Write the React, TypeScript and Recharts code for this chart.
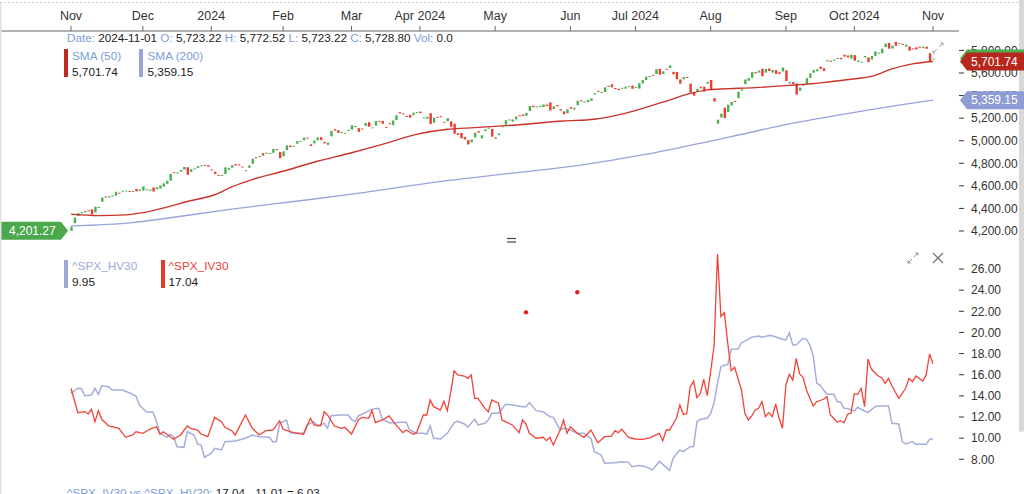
import { Bar, ComposedChart, Line, ReferenceDot, XAxis, YAxis } from 'recharts';

const FONT = '"Liberation Sans", Arial, Helvetica, sans-serif';
const UP = '#4cae4f';
const DOWN = '#ee3a2f';
const LABEL = '#7b9dd6';
const INK = '#222';

// trading-day index (0 = 2023-11-01) of the first session of each month
const monthTicks = [0, 21, 41, 62, 82, 102, 124, 146, 165, 187, 209, 229, 252];
const monthLabels = ['Nov', 'Dec', '2024', 'Feb', 'Mar', 'Apr 2024', 'May', 'Jun', 'Jul 2024', 'Aug', 'Sep', 'Oct 2024', 'Nov'];

// daily candles, one per session
const opens = [
  // Nov 2023
  4201.27, 4268, 4334, 4364, 4366, 4384, 4391, 4364, 4407, 4459, 4505, 4497, 4510, 4512, 4539, 4553, 4556, 4555, 4546, 4572, 4555,
  // Dec
  4559, 4564, 4557, 4586, 4569, 4576, 4593, 4618, 4646, 4721, 4714, 4726, 4744, 4765, 4724, 4754, 4759, 4773, 4786, 4783,
  // Jan 2024
  4745, 4725, 4697, 4691, 4704, 4742, 4760, 4792, 4791, 4772, 4739, 4760, 4796, 4853, 4857, 4889, 4887, 4889, 4893, 4926, 4899,
  // Feb
  4861, 4916, 4957, 4950, 4973, 4995, 5004, 5027, 4968, 4976, 5003, 5031, 4989, 4963, 5039, 5101, 5093, 5075, 5067, 5085,
  // Mar
  5099, 5131, 5111, 5108, 5132, 5164, 5112, 5134, 5173, 5175, 5123, 5155, 5139, 5182, 5253, 5242, 5220, 5229, 5226, 5248,
  // Apr
  5258, 5204, 5194, 5244, 5159, 5211, 5217, 5168, 5173, 5172, 5150, 5065, 5069, 5032, 5005, 4987, 5029, 5085, 5020, 5085, 5114, 5104,
  // May
  5029, 5049, 5123, 5142, 5187, 5169, 5189, 5225, 5233, 5221, 5263, 5310, 5303, 5305, 5299, 5319, 5340, 5281, 5316, 5279, 5260, 5243,
  // Jun
  5297, 5276, 5314, 5358, 5344, 5341, 5353, 5409, 5442, 5424, 5431, 5476, 5500, 5467, 5460, 5461, 5461, 5474, 5488,
  // Jul
  5471, 5462, 5507, 5538, 5573, 5584, 5591, 5635, 5591, 5638, 5644, 5610, 5609, 5543, 5544, 5565, 5506, 5429, 5434, 5477, 5479, 5506,
  // Aug
  5538, 5377, 5151, 5206, 5293, 5253, 5313, 5352, 5377, 5443, 5501, 5531, 5557, 5608, 5603, 5638, 5603, 5640, 5603, 5625, 5607, 5613,
  // Sep
  5624, 5507, 5520, 5507, 5442, 5491, 5496, 5557, 5603, 5615, 5656, 5642, 5703, 5709, 5712, 5728, 5734, 5762, 5755, 5727,
  // Oct
  5758, 5698, 5699, 5738, 5738, 5719, 5752, 5778, 5775, 5830, 5867, 5817, 5876, 5859, 5858, 5833, 5835, 5817, 5827, 5834, 5820, 5833, 5775,
  // Nov 2024
  5723.22,
];

const closes = [
  4238, 4318, 4358, 4366, 4378, 4383, 4347, 4415, 4412, 4496, 4503, 4508, 4514, 4547, 4538, 4557, 4559, 4550, 4555, 4551, 4568,
  4595, 4570, 4567, 4549, 4586, 4604, 4622, 4644, 4707, 4720, 4719, 4741, 4768, 4698, 4747, 4755, 4775, 4782, 4783, 4770,
  4743, 4705, 4689, 4697, 4764, 4757, 4783, 4780, 4784, 4766, 4739, 4781, 4840, 4850, 4865, 4869, 4894, 4891, 4928, 4925, 4846,
  4906, 4959, 4943, 4954, 4995, 4998, 5027, 5022, 4953, 5001, 5030, 5006, 4976, 4982, 5087, 5089, 5070, 5078, 5070, 5096,
  5137, 5131, 5079, 5105, 5157, 5124, 5118, 5175, 5165, 5150, 5117, 5149, 5179, 5225, 5242, 5234, 5218, 5204, 5248, 5254,
  5244, 5206, 5211, 5147, 5204, 5202, 5210, 5161, 5199, 5123, 5062, 5051, 5022, 5011, 4967, 5011, 5071, 5072, 5048, 5100, 5116, 5036,
  5018, 5064, 5128, 5181, 5188, 5188, 5214, 5223, 5221, 5247, 5308, 5297, 5303, 5308, 5321, 5307, 5268, 5305, 5306, 5267, 5235, 5278,
  5283, 5291, 5354, 5353, 5347, 5361, 5375, 5421, 5434, 5432, 5473, 5487, 5473, 5465, 5448, 5469, 5478, 5483, 5460,
  5475, 5509, 5537, 5567, 5573, 5577, 5634, 5585, 5615, 5631, 5667, 5588, 5545, 5505, 5564, 5556, 5427, 5399, 5459, 5464, 5436, 5522,
  5447, 5347, 5186, 5240, 5200, 5319, 5344, 5344, 5434, 5455, 5543, 5554, 5608, 5597, 5621, 5571, 5635, 5617, 5626, 5592, 5592, 5648,
  5529, 5520, 5503, 5408, 5471, 5496, 5554, 5596, 5626, 5633, 5635, 5618, 5714, 5703, 5719, 5733, 5722, 5745, 5738, 5762,
  5709, 5710, 5700, 5751, 5696, 5751, 5792, 5780, 5815, 5860, 5815, 5842, 5841, 5865, 5854, 5851, 5797, 5810, 5808, 5824, 5833, 5814, 5705,
  5728.8,
];

// moving averages: [session, value]
const sma50: [number, number][] = [
  [0, 4349], [8, 4336], [16, 4343], [21, 4363], [28, 4411], [34, 4461], [42, 4521], [47, 4590], [53, 4655],
  [62, 4729], [72, 4818], [82, 4893], [91, 4967], [101, 5056], [110, 5101], [118, 5116], [129, 5137],
  [144, 5175], [153, 5190], [161, 5235], [168, 5295], [174, 5350], [180, 5410], [186, 5450], [190, 5458],
  [200, 5470], [210, 5490], [220, 5515], [228, 5545], [234, 5570], [240, 5636], [246, 5681], [252, 5701.74],
];
const sma200: [number, number][] = [
  [0, 4245], [18, 4274], [28, 4313], [47, 4394], [67, 4468], [86, 4542], [106, 4631], [129, 4712],
  [148, 4780], [168, 4878], [187, 4997], [193, 5036], [207, 5130], [226, 5235], [246, 5333], [252, 5359.15],
];

const priceTicks = [4200, 4400, 4600, 4800, 5000, 5200, 5400, 5600, 5800];
const volTicks = [8, 10, 12, 14, 16, 18, 20, 22, 24, 26];

const hv30: [number, number][] = [
  [0, 14.24], [2, 14.72], [3, 14.7], [4, 14.02], [6, 14.08], [7, 14.72], [8, 14.15], [9, 14.96], [11, 14.87],
  [12, 14.56], [15, 14.56], [17, 14.3], [19, 13.99], [20, 13.14], [22, 12.5], [24, 12.45], [25, 11.56], [26, 10.46],
  [28, 10.08], [29, 10.37], [30, 10.14], [31, 9.19], [33, 9.13], [34, 10.61], [36, 10.3], [37, 9.45], [38, 9.35],
  [39, 8.19], [41, 8.57], [42, 9.04], [44, 8.88], [45, 9.67], [48, 9.73], [51, 9.99], [53, 10.3], [55, 10.14],
  [58, 10.08], [59, 9.67], [60, 9.67], [61, 11.4], [63, 11.72], [64, 10.52], [66, 10.46], [68, 10.46], [69, 11.25],
  [71, 11.56], [72, 11.15], [74, 11.4], [75, 10.93], [76, 12.12], [79, 12.19], [81, 12.19], [82, 11.78], [83, 11.56],
  [84, 12.1], [86, 12.41], [88, 12.73], [90, 12.82], [91, 11.78], [93, 11.46], [95, 11.46], [96, 11.5], [98, 11.5],
  [99, 10.77], [101, 10.46], [103, 10.46], [104, 10.39], [105, 11.15], [106, 9.99], [108, 9.92], [110, 10.46],
  [112, 11.46], [113, 11.62], [115, 11.34], [116, 11.03], [118, 11.78], [119, 11.25], [121, 11.4], [122, 11.72],
  [123, 12.35], [125, 12.35], [127, 13.2], [129, 13.14], [132, 12.98], [133, 12.98], [134, 13.36], [136, 12.6],
  [138, 12.5], [140, 12.03], [141, 11.97], [143, 10.77], [144, 10.93], [146, 10.77], [148, 10.46], [150, 10.46],
  [151, 10.2], [152, 9.99], [153, 8.72], [155, 8.41], [156, 7.62], [159, 7.68], [161, 7.77], [163, 7.71], [164, 7.3],
  [166, 7.4], [168, 7.3], [170, 7.0], [172, 7.8], [175, 6.95], [176, 8.09], [178, 8.88], [179, 8.72], [181, 9.19],
  [182, 9.19], [183, 11.56], [184, 11.78], [186, 11.88], [187, 12.35], [188, 13.36], [189, 15.19], [190, 16.76],
  [191, 16.92], [192, 16.95], [193, 18.41], [195, 18.43], [196, 19.03], [198, 19.35], [199, 19.54], [201, 19.67],
  [202, 19.54], [204, 19.7], [205, 19.68], [208, 19.35], [209, 19.29], [210, 19.98], [211, 18.81], [212, 18.81],
  [214, 19.45], [215, 19.35], [216, 18.81], [217, 17.77], [218, 15.19], [219, 15.03], [220, 14.56], [221, 14.15],
  [223, 14.15], [224, 13.45], [225, 13.4], [226, 12.82], [227, 12.8], [229, 12.57], [230, 12.92], [231, 12.73],
  [233, 12.41], [235, 12.98], [236, 13.04], [239, 13.04], [240, 11.4], [242, 11.34], [243, 9.67], [244, 9.45],
  [246, 9.67], [247, 9.42], [250, 9.42], [251, 9.89], [252, 9.95],
];

const iv30: [number, number][] = [
  [0, 14.7], [2, 12.41], [4, 12.5], [5, 12.29], [6, 12.73], [7, 11.56], [8, 12.6], [9, 11.78], [11, 11.15],
  [14, 10.93], [16, 10.08], [18, 10.3], [19, 10.61], [21, 10.46], [23, 10.84], [25, 11.08], [26, 10.37], [27, 10.61],
  [29, 10.14], [30, 9.89], [32, 10.3], [34, 11.15], [35, 10.93], [37, 10.77], [38, 10.39], [40, 10.14], [42, 11.97],
  [44, 11.56], [45, 11.03], [47, 10.71], [48, 10.3], [51, 12.19], [53, 10.93], [55, 10.3], [57, 10.71], [59, 10.77],
  [61, 11.65], [62, 10.84], [65, 10.52], [68, 10.37], [70, 11.88], [71, 11.25], [73, 11.18], [74, 12.5], [75, 12.19],
  [77, 11.15], [79, 10.93], [80, 11.03], [82, 10.39], [84, 11.72], [85, 11.97], [87, 11.88], [88, 12.6], [89, 11.46],
  [91, 11.72], [93, 12.1], [95, 11.25], [97, 10.52], [98, 10.77], [100, 10.37], [101, 10.52], [103, 12.19], [104, 12.19],
  [105, 13.61], [106, 12.98], [108, 12.66], [109, 13.5], [110, 12.6], [111, 14.3], [112, 16.38], [113, 15.98],
  [115, 15.88], [116, 15.66], [117, 15.98], [118, 13.77], [119, 13.77], [121, 12.82], [122, 12.5], [123, 13.61],
  [125, 13.3], [126, 11.72], [127, 11.56], [129, 11.25], [131, 10.52], [132, 11.72], [133, 11.34], [134, 10.46],
  [136, 9.99], [138, 10.08], [139, 9.76], [140, 10.08], [141, 9.35], [143, 10.77], [144, 11.72], [145, 10.46],
  [146, 11.08], [148, 10.46], [150, 10.08], [152, 10.77], [154, 9.57], [156, 10.14], [158, 10.2], [159, 10.71],
  [160, 10.52], [161, 10.84], [163, 10.08], [165, 9.92], [167, 9.89], [169, 10.0], [172, 10.46], [173, 9.76],
  [174, 10.77], [175, 10.77], [177, 11.88], [178, 13.14], [179, 12.26], [180, 12.29], [181, 14.81], [182, 15.4],
  [183, 13.83], [184, 14.24], [185, 15.57], [186, 14.02], [187, 16.29], [188, 18.81], [189, 27.42], [190, 21.49],
  [191, 21.87], [192, 18.97], [193, 16.38], [194, 16.7], [196, 14.56], [197, 12.35], [198, 11.72], [199, 12.1],
  [200, 12.66], [201, 12.82], [202, 13.45], [203, 12.03], [204, 12.41], [205, 12.03], [206, 13.23], [207, 11.88],
  [208, 10.93], [209, 15.03], [210, 16.04], [211, 15.5], [212, 17.55], [213, 16.07], [214, 15.76], [215, 14.56],
  [216, 13.77], [217, 13.04], [218, 13.45], [220, 13.68], [221, 13.92], [222, 12.19], [223, 11.88], [224, 11.5],
  [225, 11.65], [226, 11.46], [227, 12.26], [228, 12.35], [229, 14.18], [230, 14.15], [231, 14.72], [232, 12.98],
  [233, 17.49], [234, 16.51], [236, 15.88], [237, 15.72], [238, 15.19], [239, 15.66], [240, 14.93], [242, 13.77],
  [243, 14.24], [244, 14.72], [245, 15.66], [246, 15.34], [247, 15.88], [249, 15.4], [250, 15.98], [251, 17.96],
  [252, 17.04],
];

// two stray IV marks floating above the lines
const strayDots: [number, number][] = [[133, 21.9], [148, 23.8]];

const candles = closes.map((close, i) => ({ i, open: opens[i], close }));
const toPoints = (rows: [number, number][]) => rows.map(([i, v]) => ({ i, v }));

const fmtPrice = (v: number) => v.toLocaleString('en-US', { minimumFractionDigits: 2, maximumFractionDigits: 2 });
const last = (rows: [number, number][]) => rows[rows.length - 1][1];

const X_DOMAIN: [number, number] = [-20.76, 259.6];
const PRICE_DOMAIN: [number, number] = [4067, 5972];
const PRICE_MARGIN = { top: 0, right: 0, bottom: 4, left: 0 };
const tickStyle = { fontSize: 12, fill: '#333', fontFamily: FONT };

function Candle(props: any) {
  const { x, y, width, height, payload } = props;
  const top = height < 0 ? y + height : y;
  const h = Math.max(Math.abs(height), 1);
  return <rect x={x} y={top} width={width} height={h} fill={payload.close >= payload.open ? UP : DOWN} />;
}

function rightTag(text: string, fill: string) {
  return (p: any) => {
    const cy = p.cy;
    return (
      <g>
        <path d={`M960 ${cy} L967 ${cy - 9} L1024 ${cy - 9} L1024 ${cy + 9} L967 ${cy + 9} Z`} fill={fill} />
        <text x={971} y={cy + 4.3} fill="#fff" fontSize={12} fontFamily={FONT}>{text}</text>
      </g>
    );
  };
}

function leftTag(text: string, fill: string) {
  return (p: any) => {
    const { cx, cy } = p;
    const tip = cx - 3;
    return (
      <g>
        <path d={`M1 ${cy - 9} L${tip - 7} ${cy - 9} L${tip} ${cy} L${tip - 7} ${cy + 9} L1 ${cy + 9} Z`} fill={fill} />
        <text x={9} y={cy + 4.3} fill="#fff" fontSize={12} fontFamily={FONT}>{text}</text>
      </g>
    );
  };
}

function PriceChart() {
  return (
    <ComposedChart width={1024} height={250} data={candles} margin={PRICE_MARGIN}>
      <XAxis
        dataKey="i"
        type="number"
        orientation="top"
        height={31}
        domain={X_DOMAIN}
        allowDataOverflow
        ticks={monthTicks}
        interval={0}
        tickFormatter={(v: number) => monthLabels[monthTicks.indexOf(v)] ?? ''}
        tick={{ ...tickStyle, fontSize: 12.5 }}
        tickSize={5}
        tickMargin={6}
        axisLine={{ stroke: '#666' }}
        tickLine={{ stroke: '#666' }}
      />
      <YAxis
        orientation="right"
        width={65}
        domain={PRICE_DOMAIN}
        allowDataOverflow
        ticks={priceTicks}
        interval={0}
        tickFormatter={fmtPrice}
        tick={tickStyle}
        tickSize={5}
        tickMargin={7}
        axisLine={false}
        tickLine={{ stroke: '#333' }}
      />
      <Line data={toPoints(sma200)} dataKey="v" type="monotone" stroke="#98a4dc" strokeWidth={1.3} dot={false} isAnimationActive={false} />
      <Line data={toPoints(sma50)} dataKey="v" type="monotone" stroke="#cb3329" strokeWidth={1.4} dot={false} isAnimationActive={false} />
      <Bar
        dataKey={(d: any) => [Math.min(d.open, d.close), Math.max(d.open, d.close)]}
        barSize={2.4}
        shape={Candle}
        isAnimationActive={false}
      />
    </ComposedChart>
  );
}

// same scales as PriceChart, drawn on top so the price tags cover the axis labels
function PriceTags() {
  return (
    <ComposedChart width={1024} height={250} data={candles} margin={PRICE_MARGIN}>
      <XAxis dataKey="i" type="number" orientation="top" height={31} domain={X_DOMAIN} allowDataOverflow tick={false} axisLine={false} tickLine={false} />
      <YAxis orientation="right" width={65} domain={PRICE_DOMAIN} allowDataOverflow tick={false} axisLine={false} tickLine={false} />
      <ReferenceDot x={252} y={closes[closes.length - 1]} shape={rightTag(fmtPrice(closes[closes.length - 1]), UP)} />
      <ReferenceDot x={252} y={last(sma50)} shape={rightTag(fmtPrice(last(sma50)), '#b8271d')} />
      <ReferenceDot x={252} y={last(sma200)} shape={rightTag(fmtPrice(last(sma200)), '#8e9bd4')} />
      <ReferenceDot x={0} y={opens[0]} shape={leftTag(fmtPrice(opens[0]), '#4ba84d')} />
    </ComposedChart>
  );
}

function VolChart() {
  return (
    <ComposedChart width={1024} height={494} margin={{ top: 250, right: 0, bottom: 16, left: 0 }}>
      <XAxis dataKey="i" type="number" hide domain={X_DOMAIN} allowDataOverflow />
      <YAxis
        orientation="right"
        width={65}
        domain={[6.23, 27.8]}
        allowDataOverflow
        ticks={volTicks}
        interval={0}
        tickFormatter={(v: number) => v.toFixed(2)}
        tick={tickStyle}
        tickSize={5}
        tickMargin={7}
        axisLine={false}
        tickLine={{ stroke: '#333' }}
      />
      <Line data={toPoints(hv30)} dataKey="v" type="linear" stroke="#a5aedb" strokeWidth={1.5} dot={false} isAnimationActive={false} />
      <Line data={toPoints(iv30)} dataKey="v" type="linear" stroke="#f0443a" strokeWidth={1.3} dot={false} isAnimationActive={false} />
      {strayDots.map(([i, v]) => (
        <ReferenceDot key={i} x={i} y={v} r={2.2} fill="#e3201b" stroke="none" />
      ))}
    </ComposedChart>
  );
}

function Overlay() {
  const ohlc: [string, string][] = [
    ['Date: ', '2024-11-01 '],
    ['O: ', '5,723.22 '],
    ['H: ', '5,772.52 '],
    ['L: ', '5,723.22 '],
    ['C: ', '5,728.80 '],
    ['Vol: ', '0.0'],
  ];
  return (
    <svg width={1024} height={494} style={{ position: 'absolute', left: 0, top: 0, pointerEvents: 'none' }} fontFamily={FONT}>
      <line x1={0} y1={2.5} x2={1024} y2={2.5} stroke="#c9c9c9" strokeDasharray="2 2" />
      <line x1={0.75} y1={3} x2={0.75} y2={494} stroke="#e2e2e2" strokeWidth={1.5} />

      <text x={67} y={41.5} fontSize={11.7}>
        {ohlc.map(([k, v]) => [
          <tspan key={k} fill={LABEL}>{k}</tspan>,
          <tspan key={k + 'v'} fill={INK}>{v}</tspan>,
        ])}
      </text>

      <rect x={64} y={49} width={4} height={28} fill="#c0291f" />
      <text x={72} y={59.5} fontSize={11.8} fill={LABEL}>SMA (50)</text>
      <text x={72} y={75.5} fontSize={11.8} fill={INK}>{fmtPrice(last(sma50))}</text>
      <rect x={139} y={49} width={4} height={28} fill="#97a3da" />
      <text x={147.5} y={59.5} fontSize={11.8} fill={LABEL}>SMA (200)</text>
      <text x={147.5} y={75.5} fontSize={11.8} fill={INK}>{fmtPrice(last(sma200))}</text>

      <g stroke="#a0a0a0" strokeWidth={1} fill="none">
        <path d="M933 53 L937 49 M933 53 L933 50.5 M933 53 L935.5 53" />
        <path d="M939 47 L943 43 M943 43 L940.5 43 M943 43 L943 45.5" />
      </g>

      <line x1={507} y1={238.5} x2={516} y2={238.5} stroke="#444" strokeWidth={1.2} />
      <line x1={507} y1={242} x2={516} y2={242} stroke="#444" strokeWidth={1.2} />

      <rect x={64} y={260} width={4} height={28} fill="#9ea8d6" />
      <text x={72} y={270} fontSize={11.8} fill="#9ea8d6">^SPX_HV30</text>
      <text x={72} y={286} fontSize={11.8} fill={INK}>{last(hv30).toFixed(2)}</text>
      <rect x={161} y={260} width={4} height={28} fill="#e8382c" />
      <text x={168.5} y={270} fontSize={11.8} fill="#ee4035">^SPX_IV30</text>
      <text x={168.5} y={286} fontSize={11.8} fill={INK}>{last(iv30).toFixed(2)}</text>

      <g stroke="#8a8a8a" strokeWidth={1} fill="none">
        <path d="M908 263 L912 259 M908 263 L908 260.5 M908 263 L910.5 263" />
        <path d="M914 257 L918 253 M918 253 L915.5 253 M918 253 L918 255.5" />
      </g>
      <g stroke="#777" strokeWidth={1.3}>
        <line x1={933} y1={253} x2={943} y2={263} />
        <line x1={943} y1={253} x2={933} y2={263} />
      </g>

      <text x={67} y={497} fontSize={11.7}>
        <tspan fill={LABEL}>^SPX_IV30 vs ^SPX_HV20: </tspan>
        <tspan fill={INK}>17.04 - 11.01 = 6.03</tspan>
      </text>
    </svg>
  );
}

export default function App() {
  return (
    <div
      style={{
        position: 'absolute',
        left: 0,
        top: 0,
        width: 1024,
        height: 494,
        overflow: 'hidden',
        background: '#fff',
        fontFamily: FONT,
      }}
    >
      <div style={{ position: 'absolute', left: 1019, top: 0, width: 5, height: 432, background: '#d8d8d8', borderRadius: '0 0 3px 3px' }} />
      <div style={{ position: 'absolute', left: 0, top: 0 }}>
        <VolChart />
      </div>
      <div style={{ position: 'absolute', left: 0, top: 0 }}>
        <PriceChart />
      </div>
      <div style={{ position: 'absolute', left: 0, top: 0 }}>
        <PriceTags />
      </div>
      <Overlay />
    </div>
  );
}
